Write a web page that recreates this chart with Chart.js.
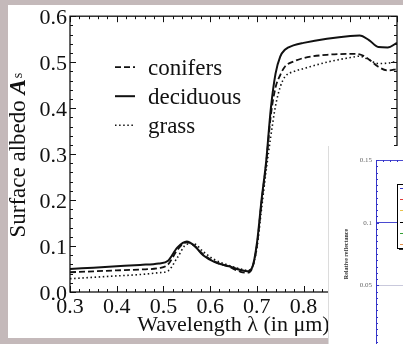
<!DOCTYPE html>
<html>
<head>
<meta charset="utf-8">
<script src="https://cdn.jsdelivr.net/npm/chart.js@4.4.1/dist/chart.umd.min.js"></script>
<style>
  html, body { margin: 0; padding: 0; width: 403px; height: 344px; overflow: hidden; background: #c4b9ba; }
  #panel { position: absolute; left: 8px; top: 5px; width: 395px; height: 333px; background: #fff; }
  #main { position: absolute; left: 0; top: 0; }
  #inset { position: absolute; left: 328px; top: 146px; width: 75px; height: 198px; background: #fff;
           border-left: 1px solid #dcdcdc; overflow: hidden; }
  #insetChart { position: absolute; left: 0; top: 0; }
</style>
</head>
<body>
<div id="panel"></div>
<canvas id="main" width="420" height="344"></canvas>
<div id="inset"><canvas id="insetChart" width="262" height="260"></canvas></div>
<script>
// wavelength in micrometres
const wavelength = [0.30, 0.35, 0.40, 0.45, 0.49, 0.51, 0.53, 0.55, 0.565, 0.585, 0.61, 0.64, 0.665, 0.68, 0.69,
  0.70, 0.71, 0.72, 0.73, 0.74, 0.75, 0.76, 0.78, 0.80, 0.85, 0.90, 0.92, 0.94, 0.96, 0.98, 1.00];
const conifers = [0.043, 0.045, 0.047, 0.049, 0.052, 0.060, 0.092, 0.108, 0.101, 0.082, 0.066, 0.055, 0.044, 0.042, 0.052,
  0.100, 0.195, 0.280, 0.385, 0.445, 0.472, 0.490, 0.502, 0.509, 0.516, 0.518, 0.517, 0.506, 0.490, 0.482, 0.485];
const deciduous = [0.050, 0.053, 0.056, 0.059, 0.062, 0.068, 0.097, 0.110, 0.102, 0.080, 0.065, 0.056, 0.048, 0.045, 0.053,
  0.105, 0.200, 0.285, 0.400, 0.475, 0.512, 0.527, 0.537, 0.542, 0.551, 0.557, 0.558, 0.548, 0.533, 0.532, 0.542];
const grass = [0.029, 0.032, 0.035, 0.038, 0.042, 0.046, 0.075, 0.104, 0.105, 0.088, 0.070, 0.058, 0.050, 0.047, 0.054,
  0.095, 0.180, 0.265, 0.340, 0.405, 0.446, 0.468, 0.480, 0.486, 0.500, 0.510, 0.513, 0.505, 0.497, 0.498, 0.502];

// inset (mostly hidden) chart: only its legend swatches show, labels unreadable
const insetColors = ["#3434c8", "#e03a3a", "#e8c24a", "#000000", "#34a034", "#e0904c"];
const insetLabels = ["", "", "", "", "", ""];

const SERIF = '"Liberation Serif", "Times New Roman", serif';
const INK = "#111";

const pts = (ys) => wavelength.map((x, i) => ({ x: x, y: ys[i] }));

// inward ticks on the frame, placed with the chart's own scales
const frameTicks = {
  id: "frameTicks",
  afterDraw(chart, args, o) {
    const { ctx, chartArea: a, scales } = chart;
    ctx.save();
    ctx.strokeStyle = o.color;
    ctx.lineWidth = 1;
    ctx.beginPath();
    o.sides.forEach((side) => {
      const horiz = side === "top" || side === "bottom";
      const sc = horiz ? scales.x : scales.y;
      const t = horiz ? o.x : o.y;
      const n = Math.round((sc.max - sc.min) / t.minor);
      for (let i = 0; i <= n; i++) {
        const v = sc.min + i * t.minor;
        const r = v / t.major;
        const len = Math.abs(r - Math.round(r)) < 1e-6 ? t.majorLen : t.minorLen;
        const p = Math.round(sc.getPixelForValue(v)) + 0.5;
        if (side === "bottom") { ctx.moveTo(p, a.bottom); ctx.lineTo(p, a.bottom - len); }
        if (side === "top") { ctx.moveTo(p, a.top); ctx.lineTo(p, a.top + len); }
        if (side === "left") { ctx.moveTo(a.left, p); ctx.lineTo(a.left + len, p); }
        if (side === "right") { ctx.moveTo(a.right, p); ctx.lineTo(a.right - len, p); }
      }
    });
    ctx.stroke();
    if (o.frame) {
      ctx.lineWidth = o.frameWidth;
      ctx.strokeRect(a.left, a.top, a.right - a.left, a.bottom - a.top);
    }
    ctx.restore();
  }
};

// legend drawn inside the plot, from the datasets
const innerLegend = {
  id: "innerLegend",
  afterDatasetsDraw(chart, args, o) {
    const { ctx, chartArea: a } = chart;
    ctx.save();
    chart.data.datasets.forEach((ds, i) => {
      const y = a.top + o.top + i * o.row;
      ctx.strokeStyle = ds.borderColor;
      ctx.lineWidth = ds.borderWidth;
      ctx.setLineDash(ds.borderDash || []);
      ctx.beginPath();
      ctx.moveTo(a.left + o.x0, y);
      ctx.lineTo(a.left + o.x1, y);
      ctx.stroke();
      ctx.setLineDash([]);
      ctx.font = o.font;
      ctx.fillStyle = INK;
      ctx.textBaseline = "middle";
      ctx.fillText(ds.label, a.left + o.tx, y + 2);
    });
    ctx.restore();
  }
};

// y axis title with a bold italic symbol and a small "s"
const yTitle = {
  id: "yTitle",
  afterDraw(chart, args, o) {
    const { ctx, chartArea: a } = chart;
    const f1 = "23px " + SERIF, f2 = "italic bold 23px " + SERIF, f3 = "14px " + SERIF;
    ctx.save();
    ctx.translate(o.x, (a.top + a.bottom) / 2 + o.shift);
    ctx.rotate(-Math.PI / 2);
    ctx.fillStyle = INK;
    ctx.textBaseline = "alphabetic";
    ctx.font = f1; const w1 = ctx.measureText(o.text).width;
    ctx.font = f2; const w2 = ctx.measureText(o.symbol).width;
    ctx.font = f3; const w3 = ctx.measureText(o.sub).width;
    let x = -(w1 + w2 + w3 + 1) / 2;
    ctx.font = f1; ctx.fillText(o.text, x, 0); x += w1;
    ctx.font = f2; ctx.fillText(o.symbol, x, 0); x += w2 + 1;
    ctx.font = f3; ctx.fillText(o.sub, x, o.subDy);
    ctx.restore();
  }
};

new Chart(document.getElementById("main"), {
  type: "line",
  data: {
    datasets: [
      { label: "conifers", data: pts(conifers), borderColor: INK, borderWidth: 1.8, borderDash: [6, 3] },
      { label: "deciduous", data: pts(deciduous), borderColor: INK, borderWidth: 2 },
      { label: "grass", data: pts(grass), borderColor: INK, borderWidth: 1.6, borderDash: [1.5, 2.6] }
    ]
  },
  plugins: [frameTicks, innerLegend, yTitle],
  options: {
    responsive: false,
    animation: false,
    layout: { padding: { left: 8, top: 15, right: 23, bottom: 0 } },
    elements: {
      point: { radius: 0 },
      line: { cubicInterpolationMode: "monotone", fill: false }
    },
    plugins: {
      legend: { display: false },
      tooltip: { enabled: false },
      frameTicks: {
        color: INK, frame: true, frameWidth: 1.3,
        sides: ["bottom", "top", "left", "right"],
        x: { minor: 0.02, major: 0.1, minorLen: 3, majorLen: 6 },
        y: { minor: 0.02, major: 0.1, minorLen: 3, majorLen: 6 }
      },
      innerLegend: { top: 51, row: 29, x0: 45, x1: 65, tx: 78, font: "23px " + SERIF },
      yTitle: { x: 25, shift: 1, text: "Surface albedo ", symbol: "A", sub: "s", subDy: -3 }
    },
    scales: {
      x: {
        type: "linear",
        min: 0.3,
        max: 1.0,
        afterFit: (s) => { s.height = 52; },
        grid: { display: false, drawTicks: false },
        border: { display: false },
        ticks: {
          stepSize: 0.1,
          padding: 2,
          color: INK,
          font: { family: SERIF, size: 22 },
          callback: (v) => v.toFixed(1)
        },
        title: {
          display: true,
          text: "Wavelength λ (in μm)",
          color: INK,
          font: { family: SERIF, size: 22 },
          padding: { top: 0, bottom: 6 }
        }
      },
      y: {
        min: 0,
        max: 0.6,
        afterFit: (s) => { s.width = 62; },
        grid: { display: false, drawTicks: false },
        border: { display: false },
        ticks: {
          stepSize: 0.1,
          padding: 3,
          labelOffset: 2,
          color: INK,
          font: { family: SERIF, size: 22 },
          callback: (v) => v.toFixed(1)
        }
      }
    }
  }
});

// the inset chart that covers the lower right corner
const insetLegend = {
  id: "insetLegend",
  afterDraw(chart, args, o) {
    const { ctx, chartArea: a } = chart;
    const bx = a.left + o.left, by = a.top + o.top;
    const h = o.pad * 2 + (chart.data.datasets.length - 1) * o.row;
    ctx.save();
    ctx.fillStyle = "#333";
    ctx.fillRect(bx + 2, by + 2, o.width, h);
    ctx.fillStyle = "#fff";
    ctx.fillRect(bx, by, o.width, h);
    ctx.strokeStyle = "#000";
    ctx.lineWidth = 1;
    ctx.strokeRect(bx + 0.5, by + 0.5, o.width, h);
    chart.data.datasets.forEach((ds, i) => {
      const y = Math.round(by + o.pad + i * o.row) + 0.5;
      ctx.strokeStyle = ds.borderColor;
      ctx.beginPath();
      ctx.moveTo(bx + 3, y);
      ctx.lineTo(bx + 16, y);
      ctx.stroke();
      ctx.fillStyle = "#333";
      ctx.font = "6px " + SERIF;
      ctx.textBaseline = "middle";
      ctx.fillText(ds.label, bx + 19, y);
    });
    ctx.restore();
  }
};

new Chart(document.getElementById("insetChart"), {
  type: "line",
  data: {
    datasets: insetLabels.map((l, i) => ({ label: l, data: [], borderColor: insetColors[i], borderWidth: 1 }))
  },
  plugins: [frameTicks, insetLegend],
  options: {
    responsive: false,
    animation: false,
    layout: { padding: { left: 10, top: 14, right: 5, bottom: 58 } },
    plugins: {
      legend: { display: false },
      tooltip: { enabled: false },
      frameTicks: {
        color: "#3434c8", frame: false, sides: ["top", "left"],
        x: { minor: 1, major: 5, minorLen: 2, majorLen: 3 },
        y: { minor: 0.005, major: 0.05, minorLen: 2, majorLen: 3 }
      },
      insetLegend: { left: 21, top: 24, width: 90, pad: 4, row: 11.2 }
    },
    scales: {
      x: { type: "linear", min: 0, max: 30, display: false },
      y: {
        min: 0,
        max: 0.15,
        afterFit: (s) => { s.width = 37; },
        grid: {
          drawTicks: false,
          lineWidth: 1,
          color: (c) => (Math.abs(c.tick.value - 0.05) < 1e-6 ? "#c9c9dc" : "#4a4ad0")
        },
        border: { color: "#3434c8", width: 1 },
        ticks: {
          stepSize: 0.05,
          padding: 4,
          color: "#666",
          font: { family: SERIF, size: 7 },
          callback: (v) => String(+v.toFixed(2))
        },
        title: {
          display: true,
          text: "Relative reflectance",
          color: "#333",
          font: { family: SERIF, size: 6, weight: "bold" },
          padding: { top: 4, bottom: 0 }
        }
      }
    }
  }
});
</script>
</body>
</html>
